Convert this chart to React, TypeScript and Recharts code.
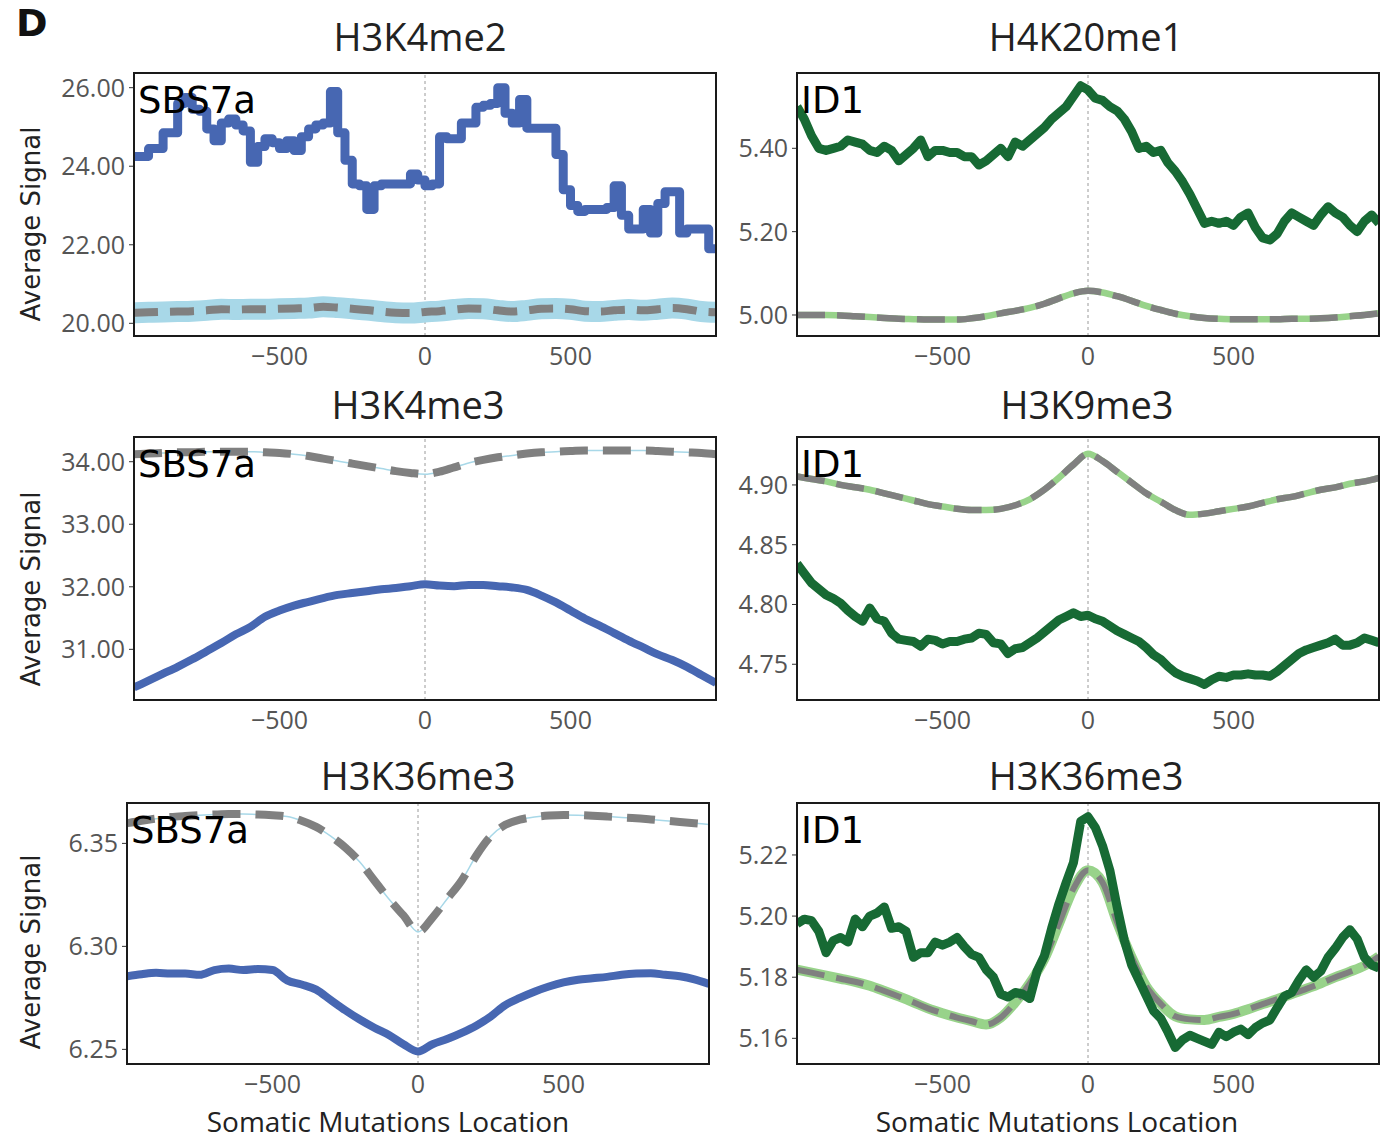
import React from "react";
import { LineChart, Line, XAxis, YAxis, ReferenceLine } from "recharts";

// distance from the mutation (bp), two sampling grids
const POS25 = [
  -1000, -975, -950, -925, -900, -875, -850, -825, -800, -775,
  -750, -725, -700, -675, -650, -625, -600, -575, -550, -525,
  -500, -475, -450, -425, -400, -375, -350, -325, -300, -275,
  -250, -225, -200, -175, -150, -125, -100, -75, -50, -25,
  0, 25, 50, 75, 100, 125, 150, 175, 200, 225,
  250, 275, 300, 325, 350, 375, 400, 425, 450, 475,
  500, 525, 550, 575, 600, 625, 650, 675, 700, 725,
  750, 775, 800, 825, 850, 875, 900, 925, 950, 975,
  1000,
];
const POS50 = [
  -1000, -950, -900, -850, -800, -750, -700, -650, -600, -550,
  -500, -450, -400, -350, -300, -250, -200, -150, -100, -50,
  0, 50, 100, 150, 200, 250, 300, 350, 400, 450,
  500, 550, 600, 650, 700, 750, 800, 850, 900, 950,
  1000,
];

// H3K4me2 - SBS7a
const h3k4me2Obs = [
  24.25, 24.25, 24.45, 24.45, 24.85, 24.85, 25.6, 25.75, 25.45, 25.4,
  24.95, 24.65, 25.1, 25.2, 25.05, 24.9, 24.1, 24.5, 24.7, 24.6,
  24.45, 24.65, 24.4, 24.75, 24.95, 25.05, 25.1, 25.9, 24.85, 24.15,
  23.55, 23.5, 22.9, 23.5, 23.55, 23.55, 23.55, 23.55, 23.8, 23.65,
  23.5, 23.55, 24.75, 24.7, 24.7, 25.1, 25.1, 25.5, 25.55, 25.6,
  26.0, 25.35, 25.1, 25.7, 24.97, 24.97, 24.97, 24.97, 24.3, 23.4,
  23.0, 22.85, 22.9, 22.9, 22.9, 22.95, 23.5, 22.75, 22.4, 22.4,
  22.9, 22.3, 23.05, 23.35, 23.35, 22.3, 22.4, 22.4, 22.4, 21.9,
  21.9,
];
const h3k4me2Sim = [
  20.27, 20.28, 20.29, 20.3, 20.31, 20.33, 20.36, 20.35, 20.36, 20.36,
  20.37, 20.38, 20.39, 20.42, 20.4, 20.37, 20.34, 20.3, 20.27, 20.26,
  20.29, 20.31, 20.35, 20.38, 20.37, 20.33, 20.3, 20.33, 20.37, 20.38,
  20.36, 20.31, 20.3, 20.33, 20.35, 20.33, 20.36, 20.39, 20.36, 20.3,
  20.28,
];

// H4K20me1 - ID1
const h4k20me1Obs = [
  5.5, 5.47, 5.43, 5.4, 5.395, 5.4, 5.405, 5.42, 5.415, 5.41,
  5.395, 5.39, 5.405, 5.395, 5.37, 5.385, 5.4, 5.42, 5.38, 5.395,
  5.395, 5.39, 5.39, 5.38, 5.38, 5.36, 5.37, 5.385, 5.4, 5.38,
  5.415, 5.405, 5.42, 5.435, 5.45, 5.47, 5.485, 5.5, 5.525, 5.55,
  5.54, 5.52, 5.515, 5.5, 5.49, 5.47, 5.44, 5.4, 5.405, 5.39,
  5.395, 5.365, 5.345, 5.32, 5.29, 5.255, 5.22, 5.225, 5.22, 5.225,
  5.215, 5.235, 5.245, 5.21, 5.185, 5.18, 5.195, 5.225, 5.245, 5.235,
  5.225, 5.215, 5.24, 5.26, 5.245, 5.235, 5.215, 5.2, 5.225, 5.24,
  5.22,
];
const h4k20me1Sim = [
  5.0, 5.0, 5.0, 4.999, 4.997, 4.995, 4.993, 4.991, 4.99, 4.989,
  4.989, 4.989, 4.992, 4.997, 5.004, 5.01, 5.017, 5.027, 5.04, 5.052,
  5.058, 5.054, 5.045, 5.034, 5.022, 5.012, 5.003, 4.997, 4.993, 4.991,
  4.99, 4.99, 4.99, 4.99, 4.991, 4.991, 4.992, 4.994, 4.997, 5.0,
  5.004,
];

// H3K4me3 - SBS7a
const h3k4me3Obs = [
  30.39, 30.5, 30.61, 30.72, 30.84, 30.97, 31.1, 31.24, 31.36, 31.52,
  31.62, 31.7, 31.76, 31.82, 31.87, 31.9, 31.93, 31.96, 31.98, 32.01,
  32.04, 32.02, 32.01, 32.03, 32.03, 32.01, 31.99, 31.95, 31.86, 31.75,
  31.62, 31.49, 31.38, 31.26, 31.14, 31.03, 30.92, 30.83, 30.72, 30.59,
  30.46,
];
const h3k4me3Sim = [
  34.12, 34.13, 34.14, 34.15, 34.15, 34.16, 34.16, 34.16, 34.16, 34.15,
  34.14, 34.12, 34.09, 34.05, 34.01, 33.97, 33.93, 33.89, 33.85, 33.82,
  33.8, 33.84, 33.91, 33.98, 34.03, 34.07, 34.1, 34.13, 34.15, 34.16,
  34.17, 34.18, 34.18, 34.18, 34.18, 34.18, 34.17, 34.16, 34.15, 34.14,
  34.12,
];

// H3K9me3 - ID1
const h3k9me3Obs = [
  4.834, 4.826, 4.818, 4.813, 4.808, 4.805, 4.801, 4.795, 4.79, 4.786,
  4.797, 4.788, 4.786, 4.776, 4.771, 4.77, 4.769, 4.765, 4.771, 4.77,
  4.767, 4.769, 4.769, 4.771, 4.772, 4.776, 4.775, 4.768, 4.767, 4.759,
  4.763, 4.764, 4.768, 4.772, 4.777, 4.782, 4.787, 4.79, 4.793, 4.79,
  4.791, 4.788, 4.786, 4.782, 4.778, 4.775, 4.772, 4.769, 4.764, 4.758,
  4.754, 4.748, 4.743, 4.74, 4.738, 4.736, 4.733, 4.737, 4.74, 4.739,
  4.741, 4.741, 4.742, 4.741, 4.741, 4.74, 4.744, 4.749, 4.754, 4.759,
  4.762, 4.764, 4.766, 4.768, 4.771, 4.766, 4.766, 4.768, 4.772, 4.77,
  4.768,
];
const h3k9me3Sim = [
  4.907, 4.905, 4.903, 4.9, 4.898, 4.896, 4.893, 4.89, 4.887, 4.884,
  4.882, 4.88, 4.879, 4.879, 4.88, 4.883, 4.888, 4.896, 4.906, 4.917,
  4.926, 4.92, 4.911, 4.902, 4.893, 4.886, 4.879, 4.875, 4.876, 4.878,
  4.88, 4.882, 4.885, 4.888, 4.89, 4.893, 4.896, 4.898, 4.901, 4.903,
  4.906,
];

// H3K36me3 - SBS7a
const h3k36me3SbsObs = [
  6.2855, 6.2865, 6.2872, 6.2868, 6.2868, 6.2862, 6.2885, 6.2892, 6.2885, 6.289,
  6.2885, 6.2835, 6.2815, 6.279, 6.274, 6.269, 6.2645, 6.2605, 6.257, 6.2525,
  6.249, 6.2525, 6.255, 6.258, 6.2615, 6.266, 6.2715, 6.275, 6.278, 6.2805,
  6.2825, 6.2838, 6.2845, 6.2852, 6.2862, 6.2868, 6.287, 6.2862, 6.2855, 6.284,
  6.2818,
];
const h3k36me3SbsSim = [
  6.3598, 6.361, 6.362, 6.3628, 6.3633, 6.3637, 6.364, 6.3642, 6.3642, 6.364,
  6.3636, 6.363, 6.361, 6.358, 6.3535, 6.348, 6.341, 6.332, 6.323, 6.315,
  6.307, 6.314, 6.323, 6.332, 6.344, 6.3535, 6.359, 6.3615, 6.3628, 6.3635,
  6.3638, 6.3637, 6.3634, 6.363, 6.3626, 6.3622, 6.3616, 6.361, 6.3604, 6.3598,
  6.3592,
];

// H3K36me3 - ID1
const h3k36me3IdObs = [
  5.1975, 5.199, 5.1985, 5.195, 5.188, 5.192, 5.193, 5.1915, 5.199, 5.1965,
  5.2, 5.201, 5.203, 5.196, 5.1965, 5.195, 5.1865, 5.188, 5.188, 5.1915,
  5.1905, 5.1915, 5.193, 5.19, 5.1875, 5.1865, 5.1825, 5.18, 5.1745, 5.1735,
  5.175, 5.1745, 5.173, 5.182, 5.187, 5.196, 5.204, 5.211, 5.2175, 5.231,
  5.2325, 5.229, 5.223, 5.215, 5.203, 5.192, 5.184, 5.179, 5.174, 5.169,
  5.1665, 5.162, 5.157, 5.1595, 5.161, 5.16, 5.159, 5.158, 5.162, 5.1605,
  5.162, 5.163, 5.1612, 5.1635, 5.165, 5.166, 5.17, 5.1738, 5.175, 5.179,
  5.1824, 5.18, 5.182, 5.1865, 5.1895, 5.193, 5.1955, 5.1925, 5.1865, 5.184,
  5.183,
];
const h3k36me3IdSim = [
  5.1825, 5.1815, 5.1805, 5.1795, 5.1785, 5.1772, 5.1755, 5.1737, 5.1718, 5.1698,
  5.1682, 5.1668, 5.1656, 5.1645, 5.1668, 5.1718, 5.178, 5.186, 5.1975, 5.209,
  5.215, 5.211, 5.198, 5.1865, 5.177, 5.1713, 5.1672, 5.1662, 5.166, 5.167,
  5.168, 5.1695, 5.1712, 5.1728, 5.1745, 5.1762, 5.178, 5.18, 5.1818, 5.1838,
  5.1868,
];

const rows = (xs: number[], ys: number[]) => xs.map((x, i) => ({ x, y: ys[i] }));

const BLUE = "#4767b2";
const GREEN = "#176a34";
const LIGHTBLUE = "#a8d8e8";
const LIGHTGREEN = "#98d38a";
const GREY = "#808080";
const SANS = "'Open Sans', sans-serif";
const DEJAVU = "'DejaVu Sans', sans-serif";

type LineSpec = { data: { x: number; y: number }[]; stroke: string; width: number; dash?: string; type?: any };

const sbsSim = (ys: number[]): LineSpec[] => [
  { data: rows(POS50, ys), stroke: LIGHTBLUE, width: 1.5, type: "monotone" },
  { data: rows(POS50, ys), stroke: GREY, width: 8, dash: "28 15", type: "monotone" },
];
const idSim = (ys: number[], under = 6.5, over = 6.5): LineSpec[] => [
  { data: rows(POS50, ys), stroke: LIGHTGREEN, width: under, type: "monotone" },
  { data: rows(POS50, ys), stroke: GREY, width: over, dash: "28 12", type: "monotone" },
];

const panels = [
  {
    title: "H3K4me2", titleX: 420, titleY: 51, sig: "SBS7a",
    x: 134, y: 73, w: 582, h: 263, domain: [19.677, 26.374], ticks: [20, 22, 24, 26],
    lines: [
      { data: rows(POS50, h3k4me2Sim), stroke: LIGHTBLUE, width: 21, type: "monotone" },
      { data: rows(POS50, h3k4me2Sim), stroke: GREY, width: 8, dash: "24 12", type: "monotone" },
      { data: rows(POS25, h3k4me2Obs), stroke: BLUE, width: 9, type: "stepAfter" },
    ] as LineSpec[],
  },
  {
    title: "H4K20me1", titleX: 1086, titleY: 51, sig: "ID1",
    x: 797, y: 73, w: 582, h: 263, domain: [4.9496, 5.5807], ticks: [5.0, 5.2, 5.4],
    lines: [...idSim(h4k20me1Sim), { data: rows(POS25, h4k20me1Obs), stroke: GREEN, width: 9, type: "linear" }],
  },
  {
    title: "H3K4me3", titleX: 418, titleY: 419, sig: "SBS7a",
    x: 134, y: 437, w: 582, h: 263, domain: [30.19, 34.395], ticks: [31, 32, 33, 34],
    lines: [...sbsSim(h3k4me3Sim), { data: rows(POS50, h3k4me3Obs), stroke: BLUE, width: 8, type: "monotone" }],
  },
  {
    title: "H3K9me3", titleX: 1087, titleY: 419, sig: "ID1",
    x: 797, y: 437, w: 582, h: 263, domain: [4.7201, 4.9401], ticks: [4.75, 4.8, 4.85, 4.9],
    lines: [...idSim(h3k9me3Sim), { data: rows(POS25, h3k9me3Obs), stroke: GREEN, width: 9, type: "linear" }],
  },
  {
    title: "H3K36me3", titleX: 418, titleY: 790, sig: "SBS7a",
    x: 127, y: 803, w: 582, h: 261, domain: [6.2429, 6.3696], ticks: [6.25, 6.3, 6.35],
    lines: [...sbsSim(h3k36me3SbsSim), { data: rows(POS50, h3k36me3SbsObs), stroke: BLUE, width: 8, type: "monotone" }],
  },
  {
    title: "H3K36me3", titleX: 1086, titleY: 790, sig: "ID1",
    x: 797, y: 803, w: 582, h: 261, domain: [5.1516, 5.237], ticks: [5.16, 5.18, 5.2, 5.22],
    lines: [...idSim(h3k36me3IdSim, 10, 6), { data: rows(POS25, h3k36me3IdObs), stroke: GREEN, width: 9, type: "linear" }],
  },
];

const YW = 110;
const XH = 44;
const TOP = 20;

const fmtX = (v: number) => (v < 0 ? "\u2212" + Math.abs(v) : String(v));

function Panel({ p }: { p: (typeof panels)[number] }) {
  return (
    <div style={{ position: "absolute", left: p.x - YW, top: p.y - TOP }}>
      <LineChart width={p.w + YW} height={p.h + XH + TOP} margin={{ top: TOP, right: 0, bottom: 0, left: 0 }}>
        <XAxis
          type="number"
          dataKey="x"
          domain={[-1000, 1000]}
          ticks={[-500, 0, 500]}
          allowDataOverflow
          tickFormatter={fmtX}
          height={XH}
          axisLine={false}
          tickLine={false}
          tickSize={0}
          tickMargin={11}
          tick={{ fill: "#555", fontSize: 25, fontFamily: SANS }}
        />
        <YAxis
          type="number"
          domain={p.domain}
          ticks={p.ticks}
          allowDataOverflow
          width={YW}
          tickFormatter={(v: number) => v.toFixed(2)}
          axisLine={false}
          tickLine={{ stroke: "#333" }}
          tickSize={5}
          tickMargin={4}
          tick={{ fill: "#555", fontSize: 25, fontFamily: SANS }}
        />
        <ReferenceLine x={0} stroke="#9a9a9a" strokeDasharray="3 3" strokeWidth={1} />
        {p.lines.map((l, i) => (
          <Line
            key={i}
            data={l.data}
            dataKey="y"
            type={l.type}
            stroke={l.stroke}
            strokeWidth={l.width}
            strokeDasharray={l.dash}
            strokeLinejoin="round"
            dot={false}
            activeDot={false}
            isAnimationActive={false}
          />
        ))}
      </LineChart>
    </div>
  );
}

export default function App() {
  return (
    <div style={{ position: "absolute", left: 0, top: 0, width: 1381, height: 1141, background: "#fff" }}>
      {panels.map((p, i) => (
        <Panel key={i} p={p} />
      ))}
      <svg width={1381} height={1141} style={{ position: "absolute", left: 0, top: 0, pointerEvents: "none" }}>
        <text x={16} y={36} fontFamily={DEJAVU} fontWeight={700} fontSize={38} fill="#111">D</text>
        {panels.map((p, i) => (
          <g key={i}>
            <rect x={p.x} y={p.y} width={p.w} height={p.h} fill="none" stroke="#1a1a1a" strokeWidth={2} />
            <text x={p.titleX} y={p.titleY} textAnchor="middle" fontFamily={SANS} fontSize={38} fill="#222">
              {p.title}
            </text>
            <text x={p.x + 4} y={p.y + 40} fontFamily={DEJAVU} fontSize={37} fill="#000">
              {p.sig}
            </text>
          </g>
        ))}
        {[224, 589, 952].map((cy) => (
          <text key={cy} x={40} y={cy} transform={`rotate(-90 40 ${cy})`} textAnchor="middle" fontFamily={DEJAVU} fontSize={26} fill="#222">
            Average Signal
          </text>
        ))}
        <text x={388} y={1132} textAnchor="middle" fontFamily={SANS} fontSize={28} fill="#222">Somatic Mutations Location</text>
        <text x={1057} y={1132} textAnchor="middle" fontFamily={SANS} fontSize={28} fill="#222">Somatic Mutations Location</text>
      </svg>
    </div>
  );
}
